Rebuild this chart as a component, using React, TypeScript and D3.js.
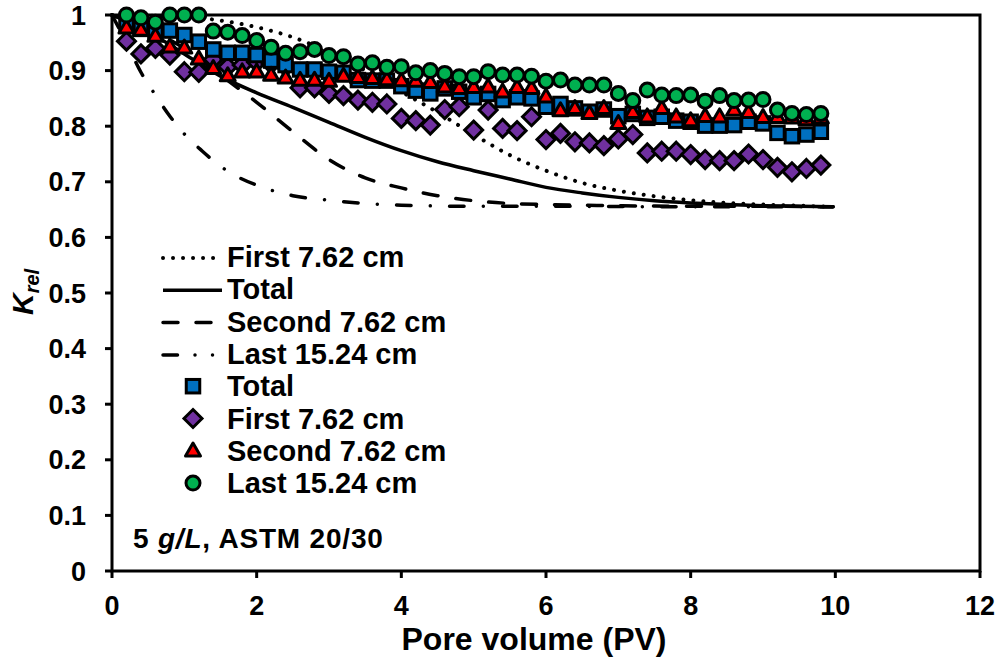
import React from "react";
import * as d3 from "d3";

// ---------- data ----------
const pv = [
  0.2, 0.4, 0.6, 0.8, 1.0, 1.2, 1.4, 1.6, 1.8, 2.0,
  2.2, 2.4, 2.6, 2.8, 3.0, 3.2, 3.4, 3.6, 3.8, 4.0,
  4.2, 4.4, 4.6, 4.8, 5.0, 5.2, 5.4, 5.6, 5.8, 6.0,
  6.2, 6.4, 6.6, 6.8, 7.0, 7.2, 7.4, 7.6, 7.8, 8.0,
  8.2, 8.4, 8.6, 8.8, 9.0, 9.2, 9.4, 9.6, 9.8,
];

const totalK = [
  0.982, 0.975, 0.97, 0.972, 0.964, 0.952, 0.938, 0.932, 0.932, 0.928,
  0.918, 0.91, 0.902, 0.902, 0.898, 0.896, 0.883, 0.882, 0.882, 0.872,
  0.864, 0.859, 0.868, 0.862, 0.852, 0.858, 0.847, 0.852, 0.85, 0.835,
  0.84, 0.832, 0.826, 0.83, 0.818, 0.822, 0.815, 0.817, 0.81, 0.808,
  0.801, 0.801, 0.802, 0.808, 0.805, 0.788, 0.782, 0.785, 0.79,
];

const firstK = [
  0.953, 0.93, 0.94, 0.928, 0.898, 0.897, 0.92, 0.907, 0.91, 0.915,
  0.912, 0.907, 0.869, 0.869, 0.859, 0.855, 0.847, 0.843, 0.84, 0.814,
  0.81, 0.802, 0.83, 0.835, 0.793, 0.829, 0.796, 0.792, 0.817, 0.776,
  0.787, 0.772, 0.77, 0.765, 0.777, 0.785, 0.752, 0.755, 0.755, 0.749,
  0.74, 0.738, 0.738, 0.75, 0.74, 0.726, 0.718, 0.724, 0.73,
];

const secondK = [
  0.977, 0.973, 0.962, 0.943, 0.941, 0.921, 0.904, 0.891, 0.898, 0.898,
  0.892, 0.887, 0.883, 0.883, 0.881, 0.89, 0.888, 0.886, 0.884, 0.882,
  0.881, 0.879, 0.871, 0.868, 0.87, 0.871, 0.862, 0.87, 0.868, 0.853,
  0.828, 0.832, 0.823, 0.832, 0.805, 0.825, 0.817, 0.832, 0.817, 0.81,
  0.818, 0.817, 0.829, 0.825, 0.816, 0.816, 0.815, 0.812, 0.815,
];

const lastK = [
  1.0, 0.995, 0.987, 1.0, 1.0, 1.0, 0.971, 0.969, 0.963, 0.954,
  0.942, 0.931, 0.934, 0.938, 0.927, 0.925, 0.912, 0.914, 0.906, 0.907,
  0.896, 0.9, 0.895, 0.889, 0.889, 0.898, 0.892, 0.892, 0.89, 0.881,
  0.883, 0.874, 0.874, 0.874, 0.859, 0.846, 0.865, 0.856, 0.855, 0.856,
  0.845, 0.855, 0.846, 0.847, 0.848, 0.829, 0.823, 0.821, 0.823,
];

// model curves
const modelFirstPV = [0, 0.5, 1, 1.5, 2, 2.5, 3, 3.5, 4, 4.5, 5, 5.5, 6, 6.5, 7, 7.5, 8, 8.5, 9, 9.5, 9.97];
const modelFirstK = [1, 0.999, 0.997, 0.99, 0.978, 0.96, 0.933, 0.9, 0.862, 0.825, 0.785, 0.748, 0.72, 0.698, 0.684, 0.674, 0.667, 0.662, 0.659, 0.657, 0.655];

const modelTotalPV = [0, 0.5, 1, 1.5, 2, 2.5, 3, 3.5, 4, 4.5, 5, 5.5, 6, 6.5, 7, 7.5, 8, 8.5, 9, 9.5, 9.97];
const modelTotalK = [1, 0.97, 0.93, 0.89, 0.86, 0.834, 0.807, 0.78, 0.756, 0.736, 0.72, 0.705, 0.69, 0.68, 0.672, 0.666, 0.662, 0.659, 0.657, 0.656, 0.655];

const modelSecondPV = [0, 0.5, 1, 1.5, 2, 2.5, 3, 3.5, 4, 4.5, 5, 5.5, 6, 7, 8, 9, 9.97];
const modelSecondK = [1, 0.975, 0.94, 0.892, 0.843, 0.79, 0.74, 0.707, 0.689, 0.675, 0.666, 0.661, 0.659, 0.657, 0.656, 0.656, 0.655];

const modelLastPV = [0, 0.2, 0.4, 0.6, 0.8, 1, 1.25, 1.5, 1.75, 2, 2.25, 2.5, 3, 3.5, 4, 5, 6, 8, 9.97];
const modelLastK = [1, 0.95, 0.897, 0.856, 0.818, 0.786, 0.755, 0.728, 0.708, 0.694, 0.683, 0.675, 0.667, 0.661, 0.658, 0.656, 0.656, 0.655, 0.655];

const xTicks = [0, 2, 4, 6, 8, 10, 12];
const xTickLabels = ["0", "2", "4", "6", "8", "10", "12"];
const yTicks = [0, 0.1, 0.2, 0.3, 0.4, 0.5, 0.6, 0.7, 0.8, 0.9, 1];
const yTickLabels = ["0", "0.1", "0.2", "0.3", "0.4", "0.5", "0.6", "0.7", "0.8", "0.9", "1"];

const legendLabels = [
  "First 7.62 cm", "Total", "Second 7.62 cm", "Last 15.24 cm",
  "Total", "First 7.62 cm", "Second 7.62 cm", "Last 15.24 cm",
];

// ---------- styles ----------
const FONT = "'Liberation Sans', Arial, Helvetica, sans-serif";
const BLUE = "#0070C0";
const PURPLE = "#7030A0";
const RED = "#FF0000";
const GREEN = "#00B050";

const W = 1003;
const H = 668;
const PL = 112, PR = 980, PT = 15, PB = 571;

type LineStyle = { dash: string; cap: "round" | "butt" };
const lineStyles: Record<string, LineStyle> = {
  dotted: { dash: "0.01 10", cap: "round" },
  solid: { dash: "none", cap: "butt" },
  dashed: { dash: "15 18", cap: "round" },
  dashdot: { dash: "14.5 17.5 0.01 17.5 0.01 19", cap: "round" },
};

function Marker({ kind, cx, cy }: { kind: string; cx: number; cy: number }) {
  const sw = 3;
  if (kind === "square") {
    const s = 13.5;
    return <rect x={cx - s / 2} y={cy - s / 2} width={s} height={s} fill={BLUE} stroke="#000" strokeWidth={sw} />;
  }
  if (kind === "diamond") {
    const r = 9;
    return (
      <path d={`M${cx},${cy - r}L${cx + r},${cy}L${cx},${cy + r}L${cx - r},${cy}Z`} fill={PURPLE} stroke="#000" strokeWidth={sw} strokeLinejoin="miter" />
    );
  }
  if (kind === "triangle") {
    const hw = 7.5, h = 13;
    return (
      <path d={`M${cx},${cy - h * 0.6}L${cx + hw},${cy + h * 0.4}L${cx - hw},${cy + h * 0.4}Z`} fill={RED} stroke="#000" strokeWidth={sw} strokeLinejoin="round" />
    );
  }
  return <circle cx={cx} cy={cy} r={7} fill={GREEN} stroke="#000" strokeWidth={sw} />;
}

export default function App() {
  const x = d3.scaleLinear().domain([0, 12]).range([PL, PR]);
  const y = d3.scaleLinear().domain([0, 1]).range([PB, PT]);

  const lineGen = d3
    .line<[number, number]>()
    .x((d) => x(d[0]))
    .y((d) => y(d[1]))
    .curve(d3.curveMonotoneX);

  const zip = (a: number[], b: number[]) => a.map((v, i) => [v, b[i]] as [number, number]);

  const curves = [
    { key: "dotted", d: lineGen(zip(modelFirstPV, modelFirstK)) },
    { key: "solid", d: lineGen(zip(modelTotalPV, modelTotalK)) },
    { key: "dashed", d: lineGen(zip(modelSecondPV, modelSecondK)) },
    { key: "dashdot", d: lineGen(zip(modelLastPV, modelLastK)) },
  ];

  const curveDash: Record<string, string> = {
    dotted: lineStyles.dotted.dash,
    solid: "none",
    dashed: lineStyles.dashed.dash,
    dashdot: "14.5 19.25 0.01 19.25",
  };

  const series = [
    { kind: "diamond", vals: firstK },
    { kind: "square", vals: totalK },
    { kind: "triangle", vals: secondK },
    { kind: "circle", vals: lastK },
  ];

  const legendKinds = ["dotted", "solid", "dashed", "dashdot", "square", "diamond", "triangle", "circle"];

  return (
    <svg
      width={W}
      height={H}
      viewBox={`0 0 ${W} ${H}`}
      style={{ position: "absolute", left: 0, top: 0, background: "#fff" }}
      fontFamily={FONT}
    >
      <rect x={0} y={0} width={W} height={H} fill="#fff" />

      {/* plot box */}
      <rect x={PL} y={PT} width={PR - PL} height={PB - PT} fill="none" stroke="#000" strokeWidth={3} />

      {/* y ticks */}
      {yTicks.map((t, i) => (
        <g key={"yt" + i}>
          <line x1={PL - 7} x2={PL} y1={y(t)} y2={y(t)} stroke="#000" strokeWidth={3} />
          <text x={86} y={y(t) + 9.5} textAnchor="end" fontSize={27} fontWeight="bold" fill="#000">
            {yTickLabels[i]}
          </text>
        </g>
      ))}

      {/* x ticks */}
      {xTicks.map((t, i) => (
        <g key={"xt" + i}>
          <line x1={x(t)} x2={x(t)} y1={PB} y2={PB + 7} stroke="#000" strokeWidth={3} />
          <text x={x(t)} y={615} textAnchor="middle" fontSize={27} fontWeight="bold" fill="#000">
            {xTickLabels[i]}
          </text>
        </g>
      ))}

      {/* axis titles */}
      <text x={534} y={650} textAnchor="middle" fontSize={32} fontWeight="bold" fill="#000">
        Pore volume (PV)
      </text>
      <text transform="translate(33,315) rotate(-90)" fontSize={30} fontWeight="bold" fontStyle="italic" fill="#000">
        K
        <tspan fontSize={20} dy={6}>rel</tspan>
      </text>

      {/* model curves */}
      {curves.map((c) => (
        <path
          key={c.key}
          d={c.d || ""}
          fill="none"
          stroke="#000"
          strokeWidth={c.key === "dotted" ? 4 : 3.5}
          strokeDasharray={curveDash[c.key]}
          strokeLinecap={lineStyles[c.key].cap}
        />
      ))}

      {/* experimental markers */}
      {series.map((s) => (
        <g key={s.kind}>
          {s.vals.map((v, i) => (
            <Marker key={i} kind={s.kind} cx={x(pv[i])} cy={y(v)} />
          ))}
        </g>
      ))}

      {/* legend */}
      {legendKinds.map((k, i) => {
        const base = 267 + 32.3 * i;
        const ls = lineStyles[k];
        return (
          <g key={"lg" + i}>
            {ls ? (
              <line
                x1={163}
                x2={222}
                y1={base - 9}
                y2={base - 9}
                stroke="#000"
                strokeWidth={k === "dotted" ? 4 : 3.5}
                strokeDasharray={ls.dash}
                strokeLinecap={ls.cap}
              />
            ) : (
              <Marker kind={k} cx={193} cy={base - 10} />
            )}
            <text x={227} y={base} fontSize={29} fontWeight="bold" fill="#000">
              {legendLabels[i]}
            </text>
          </g>
        );
      })}

      {/* annotation */}
      <text x={133} y={548} fontSize={28} fontWeight="bold" fill="#000" letterSpacing={0.8}>
        5 <tspan fontStyle="italic">g/L</tspan>, ASTM 20/30
      </text>
    </svg>
  );
}
